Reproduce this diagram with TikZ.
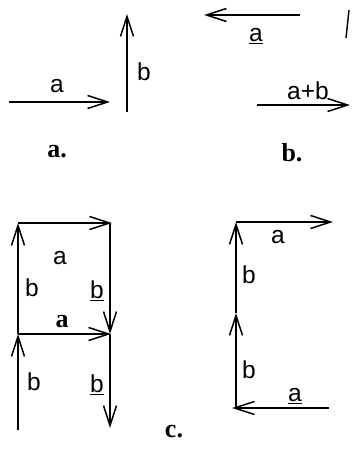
\documentclass[tikz,border=0pt]{standalone}
\usepackage{fontspec}
\setmainfont{Liberation Serif}
\setsansfont{Liberation Sans}
\usetikzlibrary{arrows.meta}
\begin{document}
\begin{tikzpicture}[x=1pt,y=-1pt,
  vec/.style={line width=1.3pt,-{Straight Barb[length=20pt,width=13pt,line width=1.5pt]}},
  plain/.style={line width=1.4pt},
  lab/.style={font=\sffamily\fontsize{24.5}{28}\selectfont,inner sep=0pt},
  bl/.style={font=\bfseries\fontsize{26}{30}\selectfont,inner sep=0pt}]
\useasboundingbox (0,0) rectangle (351,468);
% part a
\coordinate (a1) at (9,102); \coordinate (a2) at (110,102);
\coordinate (b1) at (127,112); \coordinate (b2) at (127,14);
\draw[vec] (a1) -- (a2);
\draw[vec] (b1) -- (b2);
\node[lab] (la) at (57,86) {a};
\node[lab] (lb) at (144,72) {b};
\node[bl] (capa) at (57,152) {a.};
% part b
\coordinate (c1) at (300,15); \coordinate (c2) at (204,15);
\coordinate (s1) at (349,10); \coordinate (s2) at (346,38);
\coordinate (d1) at (257,105); \coordinate (d2) at (350,105);
\draw[vec] (c1) -- (c2);
\draw[plain] (s1) -- (s2);
\draw[vec] (d1) -- (d2);
\node[lab] (lua) at (256,36) {\underline{a}};
\node[lab] (lab) at (308,91) {a+b};
\node[bl] (capb) at (292,153) {b.};
% part c left
\coordinate (tl) at (18,223); \coordinate (tr) at (112,223);
\coordinate (ml) at (18,334); \coordinate (mr) at (111,334);
\coordinate (rt) at (110,223); \coordinate (rm) at (110,334);
\coordinate (bl1) at (18,430); \coordinate (br) at (110,428);
\draw[vec] (ml) -- (tl);
\draw[vec] (tl) -- (tr);
\draw[vec] (rt) -- (rm);
\draw[vec] (ml) -- (mr);
\draw[vec] (bl1) -- (ml);
\draw[vec] (rm) -- (br);
\node[lab] (l1) at (60,258) {a};
\node[lab] (l2) at (32,288) {b};
\node[lab] (l3) at (97,291) {\underline{b}};
\node[bl] (l4) at (62,322) {a};
\node[lab] (l5) at (34,382) {b};
\node[lab] (l6) at (97,385) {\underline{b}};
% part c right
\coordinate (q1) at (236,222); \coordinate (q2) at (333,222);
\coordinate (q3) at (236,313); \coordinate (q4) at (236,408);
\coordinate (q5) at (329,408); \coordinate (q6) at (232,408);
\draw[vec] (q3) -- (q1);
\draw[vec] (q4) -- (q3);
\draw[vec] (q1) -- (q2);
\draw[vec] (q5) -- (q6);
\node[lab] (m1) at (278,237) {a};
\node[lab] (m2) at (249,275) {b};
\node[lab] (m3) at (249,370) {b};
\node[lab] (m4) at (295,396) {\underline{a}};
\node[bl] (capc) at (174,432) {c.};
\end{tikzpicture}
\end{document}
